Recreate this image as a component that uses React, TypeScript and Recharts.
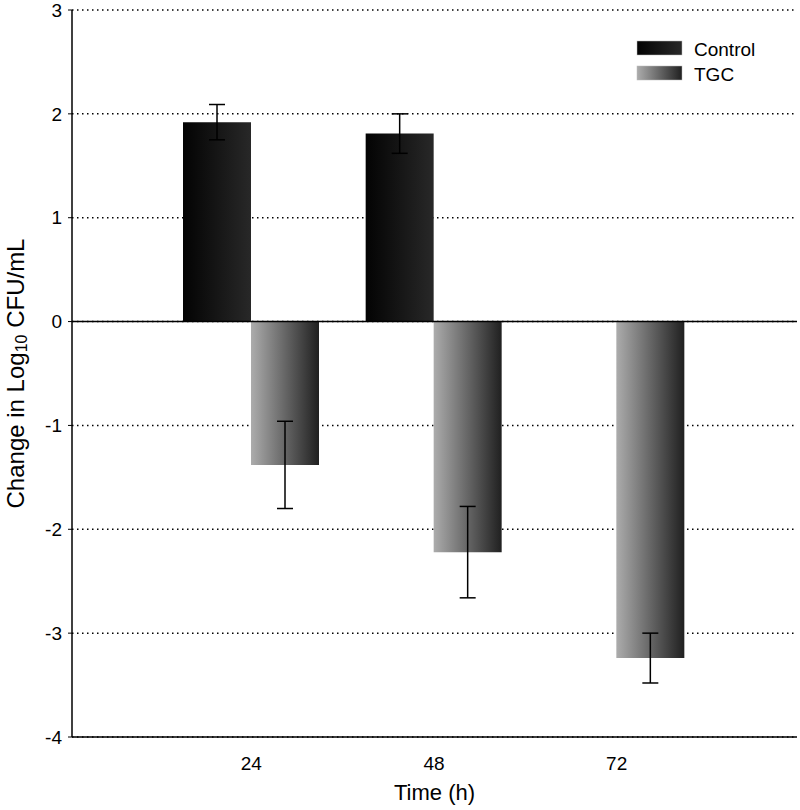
import React from 'react';
import { BarChart, Bar, XAxis, YAxis, CartesianGrid, ErrorBar, ReferenceLine } from 'recharts';

const times = ['24', '48', '72'];
const controlValues: (number | null)[] = [1.92, 1.81, null];
const controlErrors = [0.17, 0.19, 0];
const tgcValues = [-1.38, -2.22, -3.24];
const tgcErrors = [0.42, 0.44, 0.24];
const yTicks = [-4, -3, -2, -1, 0, 1, 2, 3];
const legendItems = [
  { name: 'Control', gradient: 'gradControl' },
  { name: 'TGC', gradient: 'gradTgc' },
];

const data = times.map((t, i) => ({
  time: t,
  control: controlValues[i],
  controlErr: controlErrors[i],
  tgc: tgcValues[i],
  tgcErr: tgcErrors[i],
}));

const FONT = '"Liberation Sans", Arial, Helvetica, sans-serif';

const YLabel = (props: any) => {
  const vb = props.viewBox || {};
  const cy = vb.y + vb.height / 2;
  const cx = 15;
  return (
    <text
      x={cx}
      y={cy}
      transform={`rotate(-90, ${cx}, ${cy})`}
      textAnchor="middle"
      dominantBaseline="central"
      fontFamily={FONT}
      fontSize={24}
      fill="#000"
    >
      <tspan>Change in Log</tspan>
      <tspan fontSize={16} dy={6}>10</tspan>
      <tspan dy={-6}> CFU/mL</tspan>
    </text>
  );
};

export default function App() {
  return (
    <div style={{ position: 'absolute', left: 0, top: 0, width: 800, height: 810 }}>
      <BarChart
        width={800}
        height={810}
        data={data}
        margin={{ top: 10, right: 3, left: 0, bottom: 0 }}
        barSize={68}
        barGap={0}
      >
        <defs>
          <linearGradient id="gradControl" x1="0" y1="0" x2="1" y2="0">
            <stop offset="0%" stopColor="#030303" />
            <stop offset="100%" stopColor="#282828" />
          </linearGradient>
          <linearGradient id="gradTgc" x1="0" y1="0" x2="1" y2="0">
            <stop offset="0%" stopColor="#acacac" />
            <stop offset="100%" stopColor="#202020" />
          </linearGradient>
        </defs>
        <CartesianGrid
          horizontal
          vertical={false}
          stroke="#000"
          strokeWidth={1.5}
          strokeDasharray="1.5 3.5"
        />
        <XAxis
          dataKey="time"
          type="category"
          height={73}
          padding={{ left: 88, right: 89 }}
          axisLine={{ stroke: '#000', strokeWidth: 1.5 }}
          tickLine={false}
          tick={{ fill: '#000', fontSize: 19, fontFamily: FONT }}
          tickMargin={14}
          label={{ value: 'Time (h)', position: 'insideBottom', offset: 10, fill: '#000', fontSize: 22, fontFamily: FONT }}
        />
        <YAxis
          type="number"
          domain={[-4, 3]}
          ticks={yTicks}
          interval={0}
          width={72}
          axisLine={{ stroke: '#000', strokeWidth: 1.5 }}
          tickLine={{ stroke: '#000' }}
          tickSize={4}
          tickMargin={6}
          tick={{ fill: '#000', fontSize: 19, fontFamily: FONT }}
          label={<YLabel />}
        />
        <ReferenceLine y={0} stroke="#000" strokeWidth={1.5} />
        <Bar dataKey="control" name="Control" fill="url(#gradControl)" isAnimationActive={false}>
          <ErrorBar dataKey="controlErr" width={8} stroke="#000" strokeWidth={1.5} />
        </Bar>
        <Bar dataKey="tgc" name="TGC" fill="url(#gradTgc)" isAnimationActive={false}>
          <ErrorBar dataKey="tgcErr" width={8} stroke="#000" strokeWidth={1.5} />
        </Bar>
      </BarChart>
      <svg
        width={160}
        height={50}
        style={{ position: 'absolute', left: 637, top: 41, overflow: 'visible' }}
      >
        {legendItems.map((item, i) => (
          <g key={item.name} transform={`translate(0, ${i * 25})`}>
            <rect x={0} y={0} width={45} height={14} fill={`url(#${item.gradient})`} stroke="#bbb" strokeWidth={0.5} />
            <text x={57} y={8} dominantBaseline="central" fontFamily={FONT} fontSize={19} fill="#000">
              {item.name}
            </text>
          </g>
        ))}
      </svg>
    </div>
  );
}
